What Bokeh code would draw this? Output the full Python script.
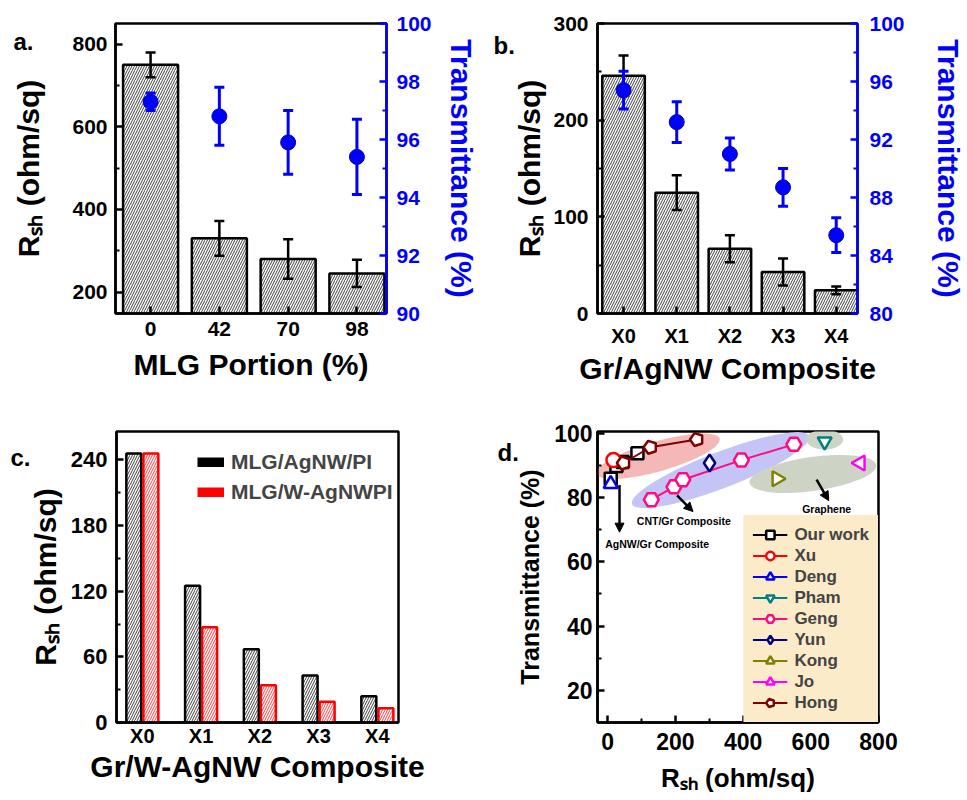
import math
from bokeh.plotting import figure
from bokeh.layouts import row, column
from bokeh.models import (Range1d, LinearAxis, FixedTicker, Title, Legend, LegendItem,
                          Arrow, NormalHead)
from bokeh.core.properties import value
from bokeh.embed import file_html
from bokeh.resources import INLINE

FONT = "Liberation Sans"
BLUE = "#0000FF"
RSH = "R\u209B\u2095 (ohm/sq)"

# ---------------- data ----------------
# panel a
a_labels = ["0", "42", "70", "98"]
a_rsh = [750, 330, 280, 245]
a_rsh_err = [30, 42, 48, 33]
a_T = [97.3, 96.8, 95.9, 95.4]
a_T_err = [0.3, 1.0, 1.1, 1.3]

# panel b
b_labels = ["X0", "X1", "X2", "X3", "X4"]
b_rsh = [246, 125, 67, 43, 24]
b_rsh_err = [21, 18, 14, 14, 4]
b_T = [95.4, 93.2, 91.0, 88.7, 85.4]
b_T_err = [1.3, 1.4, 1.1, 1.3, 1.2]

# panel c
c_labels = ["X0", "X1", "X2", "X3", "X4"]
c_pi = [246, 125, 67, 43, 24]
c_wpi = [246, 87, 34, 19, 13]

# panel d (R_sh in ohm/sq, T in %)
our_R = [9, 26, 44, 88]
our_T = [85.8, 89.8, 91.0, 93.7]
xu_R = [17]
xu_T = [91.6]
deng_R = [9]
deng_T = [84.2]
pham_R = [641]
pham_T = [97.4]
geng_R = [129, 196, 222, 395, 550]
geng_T = [79.3, 83.3, 85.5, 91.6, 96.5]
yun_R = [301]
yun_T = [90.7]
kong_R = [500]
kong_T = [85.8]
jo_R = [746]
jo_T = [90.7]
hong_R = [47, 126, 263]
hong_T = [90.7, 95.6, 98.0]

# shaded regions in panel d (centres)
region_R = [149, 334, 641, 606]
region_T = [92.8, 88.5, 98.0, 87.3]
# annotations in panel d
note_text = ["AgNW/Gr Composite", "CNT/Gr Composite", "Graphene"]
note_R = [146, 225, 647]
note_T = [65.5, 72.6, 76.3]
arrow_R0 = [35, 205, 617]
arrow_T0 = [83.9, 80.6, 85.5]
arrow_R1 = [35, 252, 653]
arrow_T1 = [69.2, 75.6, 79.0]

# region styles (screen px / degrees)
region_w = [128, 190, 37, 128]
region_h = [30, 36, 20, 34]
region_ang = [16, 21, 0, 8]
region_col = ["#F4B8B8", "#C4C4F6", "#CDD4C6", "#CDD4C6"]


# ---------------- helpers ----------------
def base_fig(w, h, frame, xr, yr):
    left, top, right, bottom = frame
    p = figure(width=w, height=h, x_range=xr, y_range=yr, output_backend="svg",
               toolbar_location=None, min_border_left=left, min_border_right=w - right,
               min_border_top=top, min_border_bottom=h - bottom)
    p.grid.visible = False
    p.outline_line_color = "black"
    p.outline_line_width = 2.5
    p.outline_line_alpha = 1
    p.background_fill_color = "white"
    p.border_fill_color = "white"
    return p


def style_axis(ax, ticks, minor, size, color="black", standoff=8, overrides=None,
               title=None, title_size=30, title_standoff=0):
    ax.ticker = FixedTicker(ticks=ticks, minor_ticks=minor)
    ax.axis_line_width = 2.5
    ax.axis_line_color = color
    ax.major_tick_line_color = color
    ax.minor_tick_line_color = color
    ax.major_tick_line_width = 2.5
    ax.minor_tick_line_width = 2
    ax.major_tick_in = 7
    ax.major_tick_out = 0
    ax.minor_tick_in = 4
    ax.minor_tick_out = 0
    ax.major_label_text_font = FONT
    ax.major_label_text_font_style = "bold"
    ax.major_label_text_font_size = f"{size}px"
    ax.major_label_text_color = color
    ax.major_label_standoff = standoff
    if overrides:
        ax.major_label_overrides = overrides
    if title:
        ax.axis_label = title
        ax.axis_label_text_font = FONT
        ax.axis_label_text_font_style = "bold"
        ax.axis_label_text_font_size = f"{title_size}px"
        ax.axis_label_text_color = color
        ax.axis_label_standoff = title_standoff


def panel_tag(p, frame, text, fx, baseline_y):
    # tag placed in the top side panel, shifted down/left beside the frame
    left, top, right, bottom = frame
    sy = baseline_y + 5
    p.add_layout(Title(text=text, align="left", offset=fx - left,
                       standoff=-2 * (sy - top), vertical_align="bottom",
                       text_font=FONT, text_font_style="bold", text_font_size="24px",
                       text_color="black"),
                 "above")


def err_bars(p, x, y, e, color, lw, cap, **kw):
    lo = [v - d for v, d in zip(y, e)]
    hi = [v + d for v, d in zip(y, e)]
    p.segment(x0=x, y0=lo, x1=x, y1=hi, line_color=color, line_width=lw, **kw)
    p.scatter(x=list(x) + list(x), y=lo + hi, marker="dash", size=cap, line_color=color,
              line_width=lw, **kw)


def hatched_bars(p, x, top, width, color):
    p.vbar(x=x, top=top, bottom=0, width=width, fill_color="white", line_color=color,
           line_width=2.5, hatch_pattern="/", hatch_color=color, hatch_scale=5,
           hatch_weight=0.75)


# ---------------- panel a ----------------
FA = (115, 21, 392, 319)
pa = base_fig(480, 390, FA, Range1d(-0.51, 3.43), Range1d(148, 850))
pa.extra_y_ranges = {"T": Range1d(90, 100)}
ra = LinearAxis(y_range_name="T")
pa.add_layout(ra, "right")
xa = list(range(len(a_labels)))
hatched_bars(pa, xa, a_rsh, 0.8, "black")
err_bars(pa, xa, a_rsh, a_rsh_err, "black", 2.5, 10)
err_bars(pa, xa, a_T, a_T_err, BLUE, 3, 10, y_range_name="T")
pa.scatter(xa, a_T, size=15, fill_color=BLUE, line_color="#0000B0", line_width=1,
           y_range_name="T")
style_axis(pa.below[0], xa, [], 21, overrides={i: l for i, l in enumerate(a_labels)},
           title="MLG Portion (%)", title_standoff=9)
style_axis(pa.left[0], [200, 400, 600, 800], [300, 500, 700], 21,
           title=RSH, title_standoff=24)
style_axis(ra, [90, 92, 94, 96, 98, 100], [91, 93, 95, 97, 99], 21, color=BLUE,
           standoff=10, title="Transmittance (%)", title_standoff=10)
panel_tag(pa, FA, "a.", 13, 47)

# ---------------- panel b ----------------
FB = (117, 23, 388, 313)
pb = base_fig(487, 390, FB, Range1d(-0.49, 4.4), Range1d(0, 300))
pb.extra_y_ranges = {"T": Range1d(80, 100)}
rb = LinearAxis(y_range_name="T")
pb.add_layout(rb, "right")
xb = list(range(len(b_labels)))
hatched_bars(pb, xb, b_rsh, 0.8, "black")
err_bars(pb, xb, b_rsh, b_rsh_err, "black", 2.5, 10)
err_bars(pb, xb, b_T, b_T_err, BLUE, 3, 10, y_range_name="T")
pb.scatter(xb, b_T, size=15, fill_color=BLUE, line_color="#0000B0", line_width=1,
           y_range_name="T")
style_axis(pb.below[0], xb, [], 20, standoff=11,
           overrides={i: l for i, l in enumerate(b_labels)},
           title="Gr/AgNW Composite", title_standoff=2)
style_axis(pb.left[0], [0, 100, 200, 300], [50, 150, 250], 21, standoff=9,
           title=RSH, title_standoff=4)
style_axis(rb, [80, 84, 88, 92, 96, 100], [82, 86, 90, 94, 98], 21, color=BLUE,
           standoff=12, title="Transmittance (%)", title_standoff=24)
panel_tag(pb, FB, "b.", 13, 53)

# ---------------- panel c ----------------
FC = (116, 34, 398, 332)
pc = base_fig(480, 410, FC, Range1d(-0.44, 4.36), Range1d(0, 266))
xc = list(range(len(c_labels)))
hatched_bars(pc, [v - 0.145 for v in xc], c_pi, 0.255, "black")
hatched_bars(pc, [v + 0.145 for v in xc], c_wpi, 0.255, "#FF0000")
style_axis(pc.below[0], xc, [], 20, standoff=2,
           overrides={i: l for i, l in enumerate(c_labels)},
           title="Gr/W-AgNW Composite", title_standoff=0)
pc.below[0].major_tick_in = 0
style_axis(pc.left[0], [0, 60, 120, 180, 240], [30, 90, 150, 210], 22, standoff=9,
           title=RSH, title_standoff=6)
lc1 = pc.line(x=[xc[0]], y=[0], line_color="black", line_width=10)
lc2 = pc.line(x=[xc[0]], y=[0], line_color="#FF0000", line_width=10)
leg_c = Legend(items=[LegendItem(label="MLG/AgNW/PI", renderers=[lc1]),
                      LegendItem(label="MLG/W-AgNWPI", renderers=[lc2])],
               location=(81, 217), padding=0, margin=0, spacing=4, glyph_width=27,
               glyph_height=10, label_height=26, label_standoff=7,
               label_text_font=FONT, label_text_font_style="bold",
               label_text_font_size="21px", background_fill_alpha=0, border_line_alpha=0)
pc.add_layout(leg_c)
panel_tag(pc, FC, "c.", 10, 68)

# ---------------- panel d ----------------
FD = (117, 41, 398, 336)
pd = base_fig(487, 410, FD, Range1d(-30, 800), Range1d(10, 100.5))
pd.ellipse(x=region_R, y=region_T, width=region_w, height=region_h,
           angle=[math.radians(a) for a in region_ang], width_units="screen",
           height_units="screen", fill_color=region_col, line_alpha=0)


def series(xs, ys, color, marker, size, angle=0.0):
    ln = pd.line(xs, ys, line_color=color, line_width=2)
    mk = pd.scatter(xs, ys, marker=marker, size=size, angle=angle, fill_color="white",
                    line_color=color, line_width=2.5)
    return [ln, mk]


HONG = "#800000"
items = []
items.append(("Our work", series(our_R, our_T, "black", "square", 12)))
items.append(("Xu", series(xu_R, xu_T, "#FF0000", "circle", 14)))
items.append(("Deng", series(deng_R, deng_T, "#0000FF", "triangle", 14)))
items.append(("Pham", series(pham_R, pham_T, "#008080", "inverted_triangle", 14)))
items.append(("Geng", series(geng_R, geng_T, "#FF0A80", "hex", 15)))
items.append(("Yun", series(yun_R, yun_T, "#000080", "diamond", 17)))
items.append(("Kong", series(kong_R, kong_T, "#808000", "triangle", 15, -math.pi / 2)))
items.append(("Jo", series(jo_R, jo_T, "#FF00FF", "triangle", 15, math.pi / 2)))
hl = pd.line(hong_R, hong_T, line_color=HONG, line_width=2)
try:
    hm = pd.ngon(x=hong_R, y=hong_T, radius=20, n=5, angle=math.pi / 2,
                 fill_color="white", line_color=HONG, line_width=2.5)
except Exception:
    hm = pd.scatter(hong_R, hong_T, marker="hex", size=14, fill_color="white",
                    line_color=HONG, line_width=2.5)
items.append(("Hong", [hl, hm]))

pd.text(x=note_R, y=note_T, text=note_text, text_font=value(FONT), text_font_style="bold",
        text_font_size="10.5px", text_align="center", text_baseline="middle")
for i in range(len(arrow_R0)):
    pd.add_layout(Arrow(end=NormalHead(size=9, fill_color="black", line_color="black",
                                       line_width=1),
                        x_start=arrow_R0[i], y_start=arrow_T0[i], x_end=arrow_R1[i],
                        y_end=arrow_T1[i], line_width=2.5, line_color="black"))

leg_d = Legend(items=[LegendItem(label=l, renderers=r) for l, r in items],
               location="bottom_right", margin=0, padding=9, spacing=0, glyph_width=35,
               glyph_height=21, label_height=21, label_standoff=7,
               label_text_font=FONT, label_text_font_style="bold",
               label_text_font_size="17px", background_fill_color="#FBEBC8",
               background_fill_alpha=1, border_line_alpha=0)
pd.add_layout(leg_d)
style_axis(pd.below[0], [0, 200, 400, 600, 800], [100, 300, 500, 700], 23, standoff=10,
           title=RSH, title_size=26, title_standoff=10)
style_axis(pd.left[0], [20, 40, 60, 80, 100], [30, 50, 70, 90], 23, standoff=5,
           title="Transmittance (%)", title_size=25, title_standoff=7)
panel_tag(pd, FD, "d.", 17, 70)

layout = column(row(pa, pb), row(pc, pd))
open("out.html", "w").write(file_html(layout, INLINE))
